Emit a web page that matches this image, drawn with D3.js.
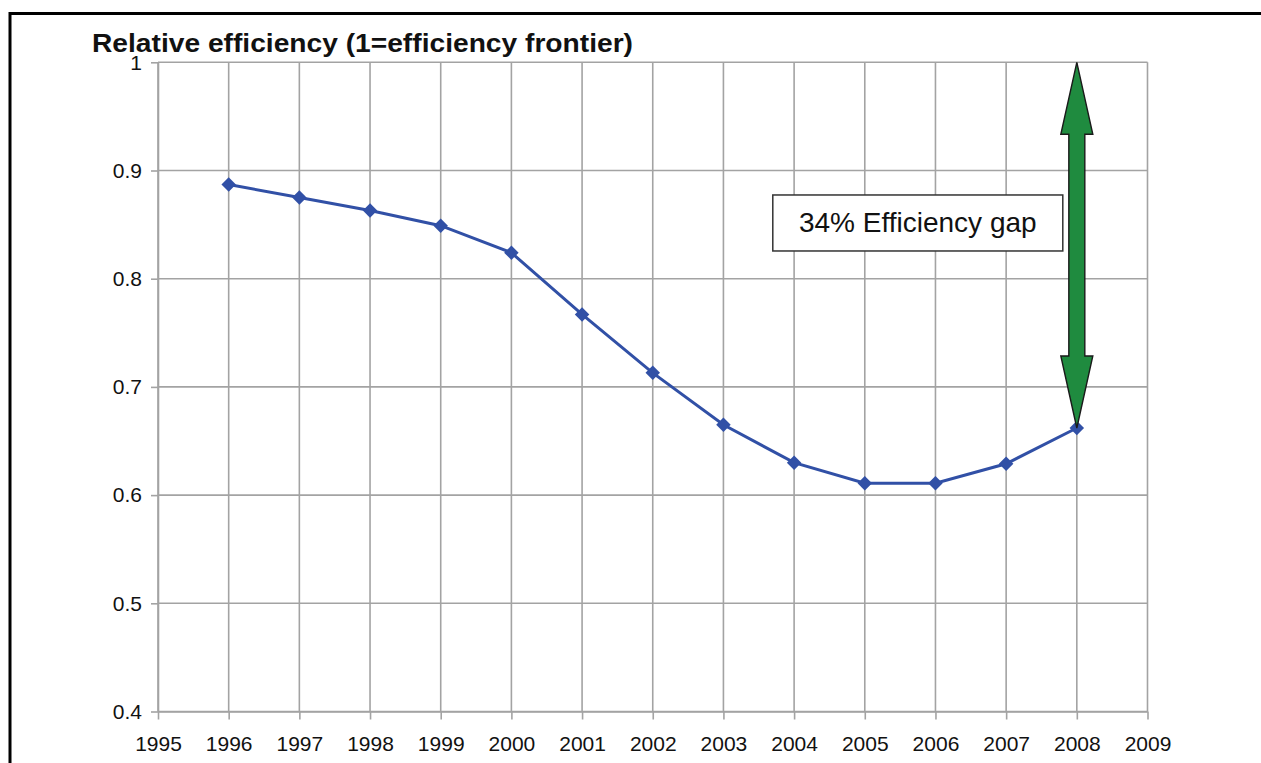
<!DOCTYPE html>
<html>
<head>
<meta charset="utf-8">
<script src="https://cdn.jsdelivr.net/npm/d3@7"></script>
<style>
  body { margin: 0; background: #fff; }
  svg { display: block; font-family: "Liberation Sans", Arial, sans-serif; }
</style>
</head>
<body>
<svg id="chart"></svg>
<script>
var width = 1261;
var height = 763;

// data
var years = [1996, 1997, 1998, 1999, 2000, 2001, 2002, 2003, 2004, 2005, 2006, 2007, 2008];
var efficiency = [0.887, 0.875, 0.863, 0.849, 0.824, 0.767, 0.713, 0.665, 0.630, 0.611, 0.611, 0.629, 0.662];
var xTicks = [1995, 1996, 1997, 1998, 1999, 2000, 2001, 2002, 2003, 2004, 2005, 2006, 2007, 2008, 2009];
var yTicks = [0.4, 0.5, 0.6, 0.7, 0.8, 0.9, 1];
var yTickLabels = ["0.4", "0.5", "0.6", "0.7", "0.8", "0.9", "1"];
var titleText = "Relative efficiency (1=efficiency frontier)";
var gapLabel = "34% Efficiency gap";
var gapYear = 2008;
var frontier = 1;

var gridColor = "#a3a3a3";
var lineColor = "#3150a6";
var arrowColor = "#1f8b3f";

var svg = d3.select("#chart")
    .attr("width", width)
    .attr("height", height);

// outer frame (only left and top visible)
svg.append("path")
    .attr("d", "M10,770 L10,13.5 L1270,13.5")
    .attr("fill", "none")
    .attr("stroke", "#000")
    .attr("stroke-width", 3);

var x = d3.scaleLinear().domain([1995, 2009]).range([158, 1147.5]);
var y = d3.scaleLinear().domain([0.4, 1]).range([711.5, 62.3]);

// grid
svg.append("g").selectAll("line.v")
    .data(xTicks)
    .enter().append("line")
    .attr("x1", d => x(d)).attr("x2", d => x(d))
    .attr("y1", y(1)).attr("y2", y(0.4))
    .attr("stroke", gridColor).attr("stroke-width", 1.6);

svg.append("g").selectAll("line.h")
    .data(yTicks)
    .enter().append("line")
    .attr("x1", x(1995)).attr("x2", x(2009))
    .attr("y1", d => y(d)).attr("y2", d => y(d))
    .attr("stroke", gridColor).attr("stroke-width", 1.6);

// axes
var xAxis = d3.axisBottom(x)
    .tickValues(xTicks)
    .tickFormat(d3.format("d"))
    .tickSizeInner(8)
    .tickSizeOuter(0)
    .tickPadding(17);

var yAxis = d3.axisLeft(y)
    .tickValues(yTicks)
    .tickFormat((d, i) => yTickLabels[i])
    .tickSizeInner(7)
    .tickSizeOuter(0)
    .tickPadding(9);

var gx = svg.append("g")
    .attr("transform", "translate(0," + y(0.4) + ")")
    .call(xAxis);
var gy = svg.append("g")
    .attr("transform", "translate(" + x(1995) + ",0)")
    .call(yAxis);

[gx, gy].forEach(function(g) {
    g.select(".domain").attr("stroke", gridColor).attr("stroke-width", 1.6);
    g.selectAll(".tick line").attr("stroke", gridColor).attr("stroke-width", 1.6);
    g.selectAll(".tick text")
        .attr("font-family", "Liberation Sans, Arial, sans-serif")
        .attr("font-size", 21)
        .attr("fill", "#111");
});

// title
svg.append("text")
    .attr("x", 92)
    .attr("y", 52)
    .attr("font-size", 25)
    .attr("font-weight", "bold")
    .attr("fill", "#111")
    .attr("textLength", 541)
    .attr("lengthAdjust", "spacingAndGlyphs")
    .text(titleText);

// series line
var line = d3.line()
    .x((d, i) => x(years[i]))
    .y(d => y(d));

svg.append("path")
    .datum(efficiency)
    .attr("d", line)
    .attr("fill", "none")
    .attr("stroke", lineColor)
    .attr("stroke-width", 3);

svg.append("g").selectAll("path")
    .data(efficiency)
    .enter().append("path")
    .attr("d", d3.symbol().type(d3.symbolSquare).size(105))
    .attr("transform", (d, i) => "translate(" + x(years[i]) + "," + y(d) + ") rotate(45)")
    .attr("fill", lineColor);

// double headed arrow: frontier down to last value
var gapValue = efficiency[years.indexOf(gapYear)];
var ax = x(gapYear);
var yTop = y(frontier);
var yBot = y(gapValue);
var headLen = 72, headHalf = 16, shaftHalf = 8;
var arrowPts = [
    [ax, yTop],
    [ax + headHalf, yTop + headLen],
    [ax + shaftHalf, yTop + headLen],
    [ax + shaftHalf, yBot - headLen],
    [ax + headHalf, yBot - headLen],
    [ax, yBot],
    [ax - headHalf, yBot - headLen],
    [ax - shaftHalf, yBot - headLen],
    [ax - shaftHalf, yTop + headLen],
    [ax - headHalf, yTop + headLen]
];
svg.append("path")
    .attr("d", d3.line()(arrowPts) + "Z")
    .attr("fill", arrowColor)
    .attr("stroke", "#1a1a1a")
    .attr("stroke-width", 1.4)
    .attr("stroke-linejoin", "miter");

// label box
var boxCx = x(2005.75), boxCy = y(0.8515);
var boxW = 290, boxH = 56;
svg.append("rect")
    .attr("x", boxCx - boxW / 2)
    .attr("y", boxCy - boxH / 2)
    .attr("width", boxW)
    .attr("height", boxH)
    .attr("fill", "#fff")
    .attr("stroke", "#333")
    .attr("stroke-width", 1.5);

svg.append("text")
    .attr("x", boxCx)
    .attr("y", boxCy + 9.5)
    .attr("text-anchor", "middle")
    .attr("font-size", 28)
    .attr("fill", "#111")
    .text(gapLabel);
</script>
</body>
</html>
